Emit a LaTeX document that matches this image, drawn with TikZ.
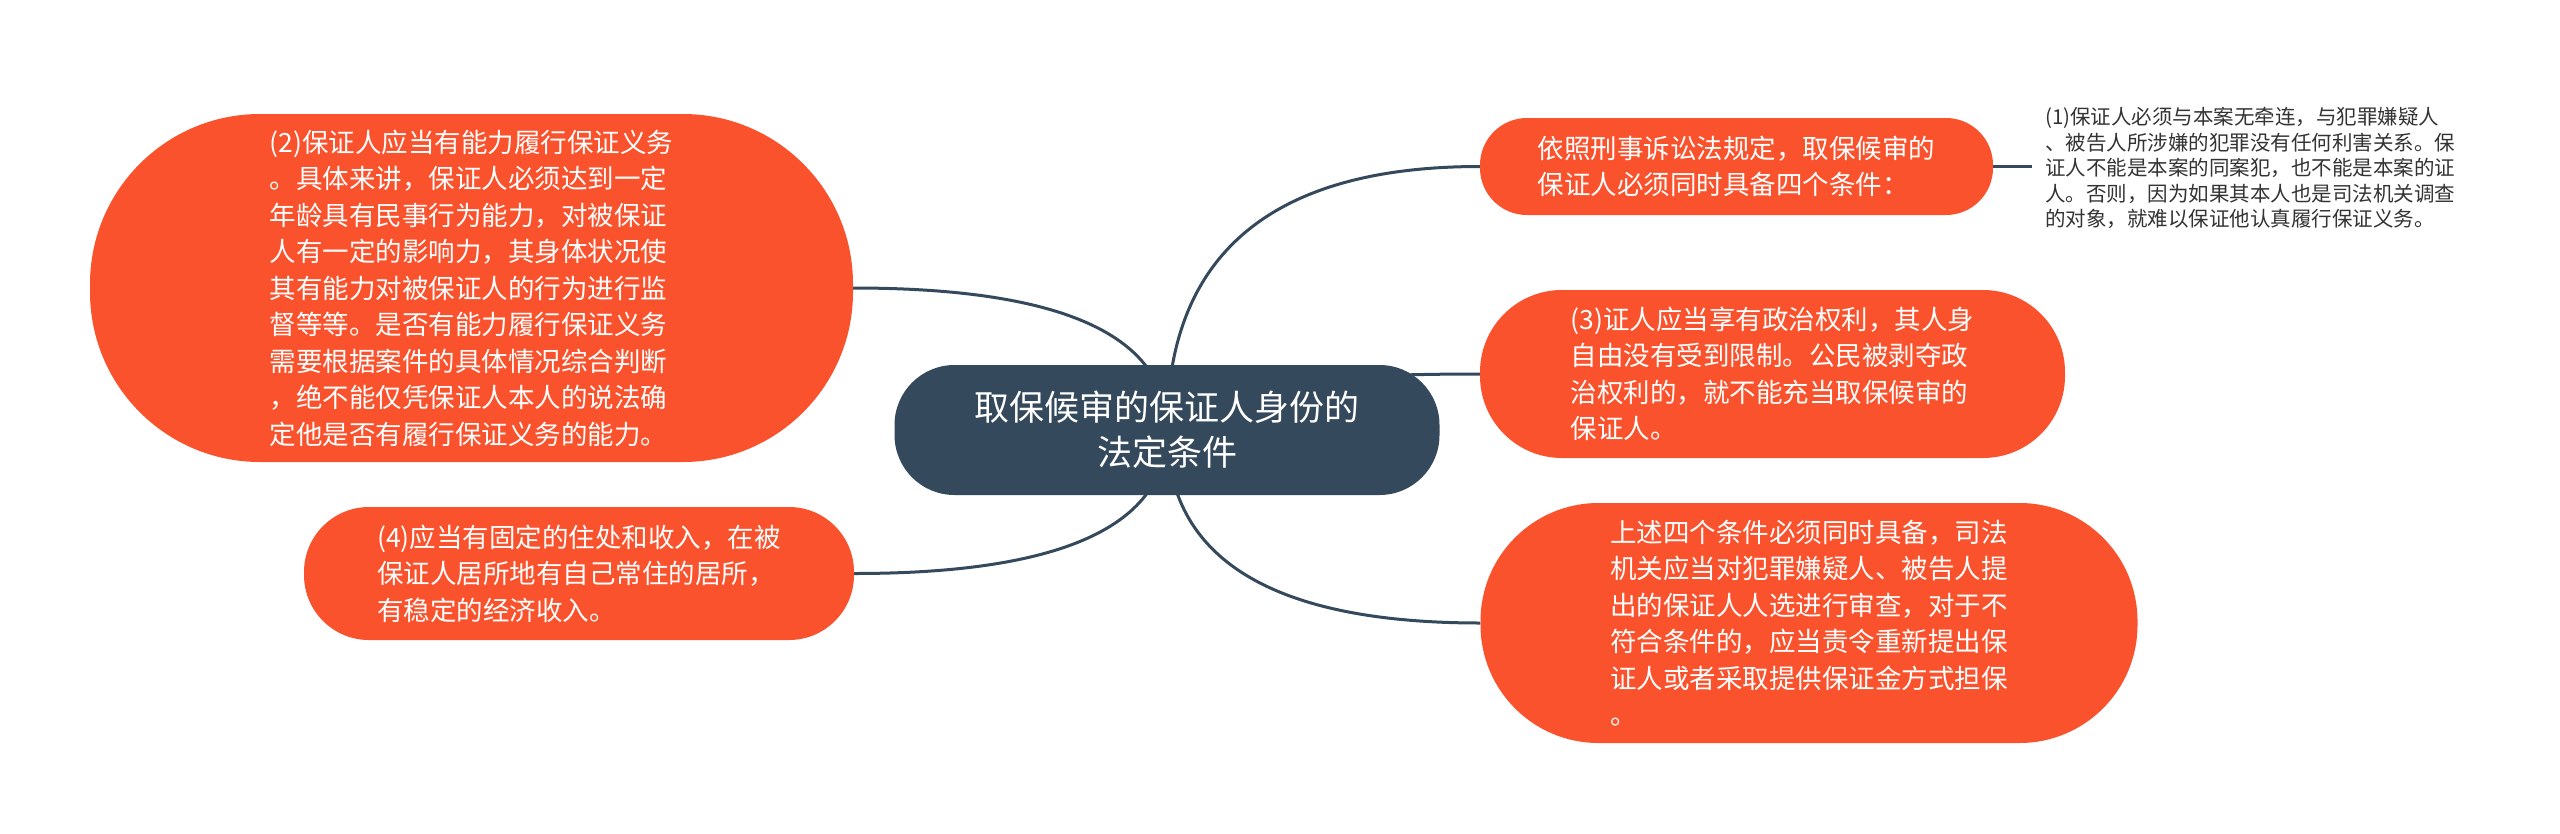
\documentclass[tikz,border=0pt]{standalone}
\usepackage{fontspec}
\newfontfamily\cjk{Noto Sans CJK SC}
\usetikzlibrary{backgrounds,calc}
\definecolor{orangefill}{RGB}{250,82,44}
\definecolor{rootfill}{RGB}{53,73,92}
\definecolor{leafgray}{RGB}{51,51,51}
\begin{document}
\begin{tikzpicture}[x=1pt,y=-1pt,
  topic/.style={rectangle, fill=orangefill, text=white, inner sep=0pt, align=left,
    font=\cjk\fontsize{26.5}{36.5}\selectfont},
  rootnode/.style={rectangle, fill=rootfill, text=white, inner sep=0pt, align=center,
    font=\cjk\fontsize{35}{45}\selectfont},
  leaf/.style={text=leafgray, align=left, inner ysep=0pt, inner xsep=13pt,
    font=\cjk\fontsize{20.5}{25.5}\selectfont},
  link/.style={draw=rootfill, line width=3pt}]
\useasboundingbox (0,0) rectangle (2560,833);

\node[rootnode, minimum width=545pt, minimum height=130pt, rounded corners=60pt] (root) at (1167,430)
  {取保候审的保证人身份的\\法定条件};

\node[topic, minimum width=763pt, minimum height=348pt, rounded corners=170pt] (n2) at (471.5,288)
  {(2)保证人应当有能力履行保证义务\\
   。具体来讲，保证人必须达到一定\\
   年龄具有民事行为能力，对被保证\\
   人有一定的影响力，其身体状况使\\
   其有能力对被保证人的行为进行监\\
   督等等。是否有能力履行保证义务\\
   需要根据案件的具体情况综合判断\\
   ，绝不能仅凭保证人本人的说法确\\
   定他是否有履行保证义务的能力。};

\node[topic, minimum width=550pt, minimum height=133pt, rounded corners=65pt] (n4) at (579,573.5)
  {(4)应当有固定的住处和收入，在被\\
   保证人居所地有自己常住的居所，\\
   有稳定的经济收入。};

\node[topic, minimum width=513pt, minimum height=97pt, rounded corners=47pt] (n0) at (1736.5,166.5)
  {依照刑事诉讼法规定，取保候审的\\保证人必须同时具备四个条件：};

\node[topic, minimum width=585pt, minimum height=168pt, rounded corners=82pt] (n3) at (1772.5,374)
  {(3)证人应当享有政治权利，其人身\\
   自由没有受到限制。公民被剥夺政\\
   治权利的，就不能充当取保候审的\\
   保证人。};

\node[topic, minimum width=657pt, minimum height=240pt, rounded corners=118pt] (n5) at (1809,623)
  {上述四个条件必须同时具备，司法\\
   机关应当对犯罪嫌疑人、被告人提\\
   出的保证人人选进行审查，对于不\\
   符合条件的，应当责令重新提出保\\
   证人或者采取提供保证金方式担保\\
   。};

\node[leaf, anchor=west] (n1) at (2032,168)
  {(1)保证人必须与本案无牵连，与犯罪嫌疑人\\
   、被告人所涉嫌的犯罪没有任何利害关系。保\\
   证人不能是本案的同案犯，也不能是本案的证\\
   人。否则，因为如果其本人也是司法机关调查\\
   的对象，就难以保证他认真履行保证义务。};

\begin{scope}[on background layer]
  \fill[white] (0,0) rectangle (2560,833);
  \foreach \t in {n0,n3,n5}
    \draw[link] (root.center) .. controls ($(root.center)!2/3!(root.center |- \t.west)$)
      and ($(\t.west)!2/3!(root.center |- \t.west)$) .. (\t.west);
  \foreach \t in {n2,n4}
    \draw[link] (root.center) .. controls ($(root.center)!2/3!(root.center |- \t.east)$)
      and ($(\t.east)!2/3!(root.center |- \t.east)$) .. (\t.east);
  \draw[link] (n0.east) -- (n0.east -| n1.west);
\end{scope}
\end{tikzpicture}
\end{document}
